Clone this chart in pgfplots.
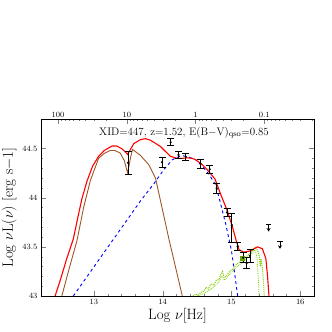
\documentclass[border=0pt]{standalone}
\usepackage{pgfplots}
\pgfplotsset{compat=1.18}
\usetikzlibrary{arrows.meta}
\definecolor{sedRed}{RGB}{255,0,0}
\definecolor{sedBrown}{RGB}{160,85,40}
\definecolor{sedBlue}{RGB}{0,0,255}
\definecolor{sedGreen}{RGB}{125,205,0}
\begin{document}
\begin{tikzpicture}
\path[use as bounding box] (-41bp,-36bp) rectangle (291bp,296bp);
% top axis: wavelength in micron
\begin{axis}[scale only axis,width=273bp,height=177bp,
  xmin=12.23,xmax=16.2,ymin=43,ymax=44.8,
  xtick pos=right,xticklabel pos=right,ytick=\empty,
  xtick={12.477,13.477,14.477,15.477},xticklabels={100,10,1,0.1},
  minor xtick={12.523,12.574,12.632,12.699,12.778,12.875,13.0,13.176,
    13.523,13.574,13.632,13.699,13.778,13.875,14.0,14.176,
    14.523,14.574,14.632,14.699,14.778,14.875,15.0,15.176,
    15.523,15.574,15.632,15.699,15.778,15.875,16.0,16.176},
  tick align=inside,major tick length=5bp,minor tick length=2.5bp,
  tick label style={font=\footnotesize},xticklabel style={yshift=-2bp}]
\end{axis}
\begin{axis}[scale only axis,width=273bp,height=177bp,
  xmin=12.23,xmax=16.2,ymin=43,ymax=44.8,
  xtick pos=left,xticklabel pos=left,yticklabel pos=left,
  xtick={13,14,15,16},minor x tick num=4,
  ytick={43,43.5,44,44.5},minor y tick num=4,
  tick align=inside,major tick length=5bp,minor tick length=2.5bp,
  tick label style={font=\footnotesize},
  xlabel={Log $\nu$[Hz]},ylabel={Log $\nu$L($\nu$) $[$erg s$-$1$]$},
  label style={font=\fontsize{15}{17}\selectfont},
  xlabel style={yshift=3bp},ylabel style={yshift=-1bp}]
% stellar / accretion disc component
\addplot[sedGreen,densely dotted,line width=1pt] coordinates {
(14.44,43.00) (14.48,43.02) (14.52,43.01) (14.56,43.04) (14.60,43.05) (14.63,43.09)
(14.66,43.07) (14.70,43.12) (14.74,43.11) (14.78,43.16) (14.82,43.17) (14.85,43.23)
(14.87,43.25) (14.89,43.19) (14.92,43.20) (14.96,43.24) (14.99,43.26) (15.03,43.28)
(15.07,43.32) (15.11,43.34) (15.15,43.37) (15.19,43.39) (15.23,43.41) (15.27,43.43)
(15.31,43.47) (15.35,43.50) (15.38,43.46) (15.40,43.42) (15.42,43.30) (15.43,43.38)
(15.45,43.28) (15.47,43.10) (15.475,43.00)};
\addplot[sedGreen,densely dotted,line width=0.8pt] coordinates {
(14.50,43.00) (14.58,43.02) (14.66,43.05) (14.74,43.09) (14.80,43.13) (14.86,43.20)
(14.90,43.16) (14.96,43.21) (15.04,43.27) (15.12,43.32) (15.20,43.37) (15.28,43.42)
(15.34,43.47) (15.37,43.40) (15.39,43.20) (15.40,43.00)};
% host / starburst
\addplot[sedBrown,line width=0.9pt] coordinates {
(12.533,43.00) (12.64,43.28) (12.752,43.56) (12.85,43.90) (12.946,44.17) (13.067,44.40)
(13.15,44.45) (13.238,44.48) (13.30,44.48) (13.38,44.455) (13.44,44.38) (13.49,44.25)
(13.53,44.40) (13.56,44.49) (13.60,44.47) (13.676,44.43) (13.797,44.335) (13.895,44.20)
(13.92,44.12) (14.09,43.58) (14.285,43.00)};
% AGN torus
\addplot[sedBlue,dashed,dash pattern=on 3bp off 3bp,line width=0.9pt] coordinates {
(12.70,43.00) (13.68,43.97) (13.87,44.14) (14.016,44.285) (14.139,44.385) (14.236,44.418)
(14.30,44.425) (14.358,44.418) (14.48,44.385) (14.577,44.318) (14.67,44.24) (14.77,44.13)
(14.82,44.00) (14.917,43.73) (15.00,43.46) (15.04,43.26) (15.09,43.00)};
% total
\addplot[sedRed,line width=1.1pt] coordinates {
(12.435,43.00) (12.51,43.16) (12.60,43.37) (12.70,43.58) (12.76,43.78) (12.825,43.99)
(12.90,44.17) (12.98,44.32) (13.067,44.42) (13.15,44.48) (13.263,44.525) (13.33,44.525)
(13.40,44.50) (13.45,44.47) (13.49,44.44) (13.53,44.49) (13.58,44.55) (13.676,44.59)
(13.75,44.60) (13.82,44.585) (13.90,44.55) (13.968,44.52) (14.04,44.47) (14.114,44.42)
(14.21,44.40) (14.29,44.40) (14.36,44.405) (14.43,44.40) (14.48,44.385) (14.577,44.335)
(14.64,44.29) (14.70,44.24) (14.76,44.19) (14.84,44.04) (14.94,43.865) (15.015,43.70)
(15.07,43.56) (15.11,43.47) (15.18,43.445) (15.28,43.46) (15.38,43.50) (15.45,43.48)
(15.50,43.38) (15.525,43.20) (15.545,43.00)};
% green square
\addplot[only marks,mark=square*,mark size=2bp,sedGreen!80!black] coordinates {(15.16,43.38)};
% photometry
\addplot[only marks,mark=*,mark size=0.9bp,black,
  error bars/.cd,y dir=both,y explicit,
  error bar style={line width=0.8pt},
  error mark options={rotate=90,mark size=3.5bp,line width=0.8pt}] coordinates {
(13.496,44.355) +- (0,0.115)
(13.99,44.36) +- (0,0.05)
(14.115,44.565) +- (0,0.035)
(14.23,44.435) +- (0,0.04)
(14.335,44.415) +- (0,0.035)
(14.55,44.345) +- (0,0.045)
(14.683,44.29) +- (0,0.04)
(14.785,44.095) +- (0,0.055)
(14.935,43.85) +- (0,0.045)
(15.005,43.72) += (0,0.125) -= (0,0.17)
(15.09,43.505) +- (0,0.045)
(15.17,43.39) +- (0,0.05)
(15.22,43.335) +- (0,0.055)
(15.27,43.41) +- (0,0.065)};
% upper limits
\addplot[only marks,mark=-,mark size=2.8bp,black,mark options={line width=0.8pt},
  error bars/.cd,y dir=minus,y fixed=0.075,error mark=none,
  error bar style={line width=0.8pt,-{Stealth[length=3.5bp,width=4bp]}}]
  coordinates {(15.54,43.73) (15.705,43.555)};
\node[font=\fontsize{11}{13}\selectfont] at (axis cs:14.31,44.66) {XID=447, z=1.52, E(B$-$V)$_{\rm qso}$=0.85};
\end{axis}
\end{tikzpicture}
\end{document}
